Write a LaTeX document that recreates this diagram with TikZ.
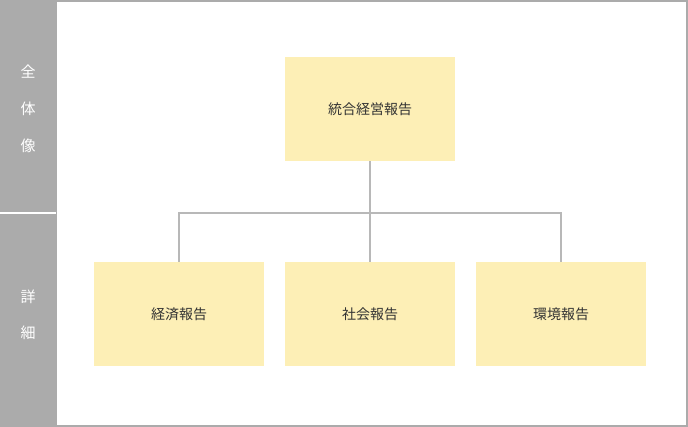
\documentclass[tikz,border=0pt]{standalone}
\usepackage{fontspec}
\setmainfont{Noto Sans CJK JP}
\begin{document}
\begin{tikzpicture}[x=1pt,y=-1pt,
  box/.style={fill=boxy,draw=none,minimum width=170pt,minimum height=104pt,inner sep=0pt,font=\fontsize{14}{16}\selectfont,text=black!80},
  side/.style={text=white,font=\fontsize{15}{17}\selectfont},
  conn/.style={draw=linegray,line width=2pt}]
\definecolor{boxy}{HTML}{FDEFB6}
\definecolor{bargray}{HTML}{ABABAB}
\definecolor{linegray}{HTML}{B8B8B8}
\useasboundingbox (0,0) rectangle (688,427);
\fill[bargray] (0,0) rectangle (56,427);
\draw[bargray,line width=2pt] (56,1) rectangle (687,426);
\draw[white,line width=2pt] (0,213) -- (56,213);
\node[side] (a1) at (28,72) {全};
\node[side] (a2) at (28,109) {体};
\node[side] (a3) at (28,146) {像};
\node[side] (b1) at (28,297) {詳};
\node[side] (b2) at (28,333) {細};
\node[box] (top) at (370,109) {統合経営報告};
\node[box] (l) at (179,314) {経済報告};
\node[box] (m) at (370,314) {社会報告};
\node[box] (r) at (561,314) {環境報告};
\coordinate (j) at (370,213);
\draw[conn] (top.south) -- (j);
\draw[conn] (l.north) |- (j) -| (r.north);
\draw[conn] (j) -- (m.north);
\end{tikzpicture}
\end{document}
